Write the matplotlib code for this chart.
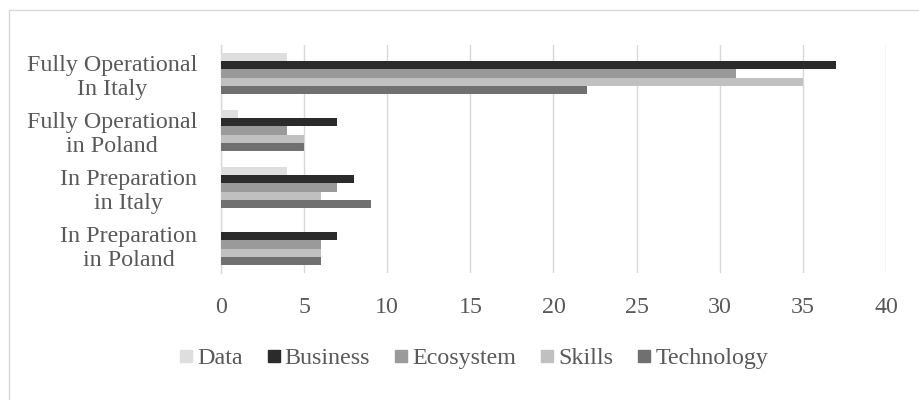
import matplotlib
matplotlib.use("Agg")
import matplotlib.pyplot as plt
from matplotlib.patches import Rectangle
from matplotlib.lines import Line2D
import numpy as np

categories = ["Fully Operational\nIn Italy", "Fully Operational\nin Poland",
              "In Preparation\nin Italy", "In Preparation\nin Poland"]
series_names = ["Data", "Business", "Ecosystem", "Skills", "Technology"]
data_vals = [4, 1, 4, 0]
business_vals = [37, 7, 8, 7]
ecosystem_vals = [31, 4, 7, 6]
skills_vals = [35, 5, 6, 6]
technology_vals = [22, 5, 9, 6]
xticks = [0, 5, 10, 15, 20, 25, 30, 35, 40]

series_values = [data_vals, business_vals, ecosystem_vals, skills_vals, technology_vals]
colors = ["#dedede", "#2b2b2b", "#9a9a9a", "#c0c0c0", "#707070"]

plt.rcParams['font.family'] = ['Liberation Serif', 'DejaVu Serif']
txt_color = "#595959"
fs = 17.3

fig = plt.figure(figsize=(9.2, 4.0), dpi=100)
W, H = 920, 400
# plot area in pixels: x 221..886, y 45..273
ax = fig.add_axes([221 / W, 1 - 273 / H, (886 - 221) / W, (273 - 45) / H])

# outer border
fig.patches.append(Rectangle((9 / W, -0.1), 1.2, 1.1 - 10 / H, transform=fig.transFigure,
                             fill=False, edgecolor="#d9d9d9", linewidth=1.0))

y = np.arange(len(categories))
h = 0.144
for i, (name, vals, c) in enumerate(zip(series_names, series_values, colors)):
    ax.barh(y + (i - 2) * h, vals, height=h, color=c, label=name, zorder=3)

ax.set_xlim(0, 40)
ax.set_ylim(len(categories) - 0.5, -0.5)
ax.set_xticks(xticks)
ax.set_xticklabels([str(t) for t in xticks])
ax.set_yticks(y)
ax.set_yticklabels(categories)
for lbl in ax.get_yticklabels():
    lbl.set_multialignment('center')
    lbl.set_linespacing(1.2)

ax.grid(axis='x', color="#d9d9d9", linewidth=1.0, zorder=0)
for s in ["top", "right", "bottom"]:
    ax.spines[s].set_visible(False)
ax.spines["left"].set_color("#d9d9d9")
ax.spines["left"].set_linewidth(1.0)
ax.tick_params(axis='both', length=0, labelsize=fs, labelcolor=txt_color)
ax.tick_params(axis='x', pad=17)
ax.tick_params(axis='y', pad=17)

handles = [Line2D([], [], marker='s', linestyle='none', markersize=8.8,
                  markerfacecolor=c, markeredgecolor=c) for c in colors]
leg = fig.legend(handles, series_names, loc='center', bbox_to_anchor=(473.5 / W, 1 - 358 / H),
                 ncol=5, frameon=False, fontsize=fs, handlelength=0.6, handletextpad=0.15,
                 columnspacing=1.0, borderpad=0)
for t in leg.get_texts():
    t.set_color(txt_color)

fig.savefig("out.png", dpi=100, facecolor="white")
